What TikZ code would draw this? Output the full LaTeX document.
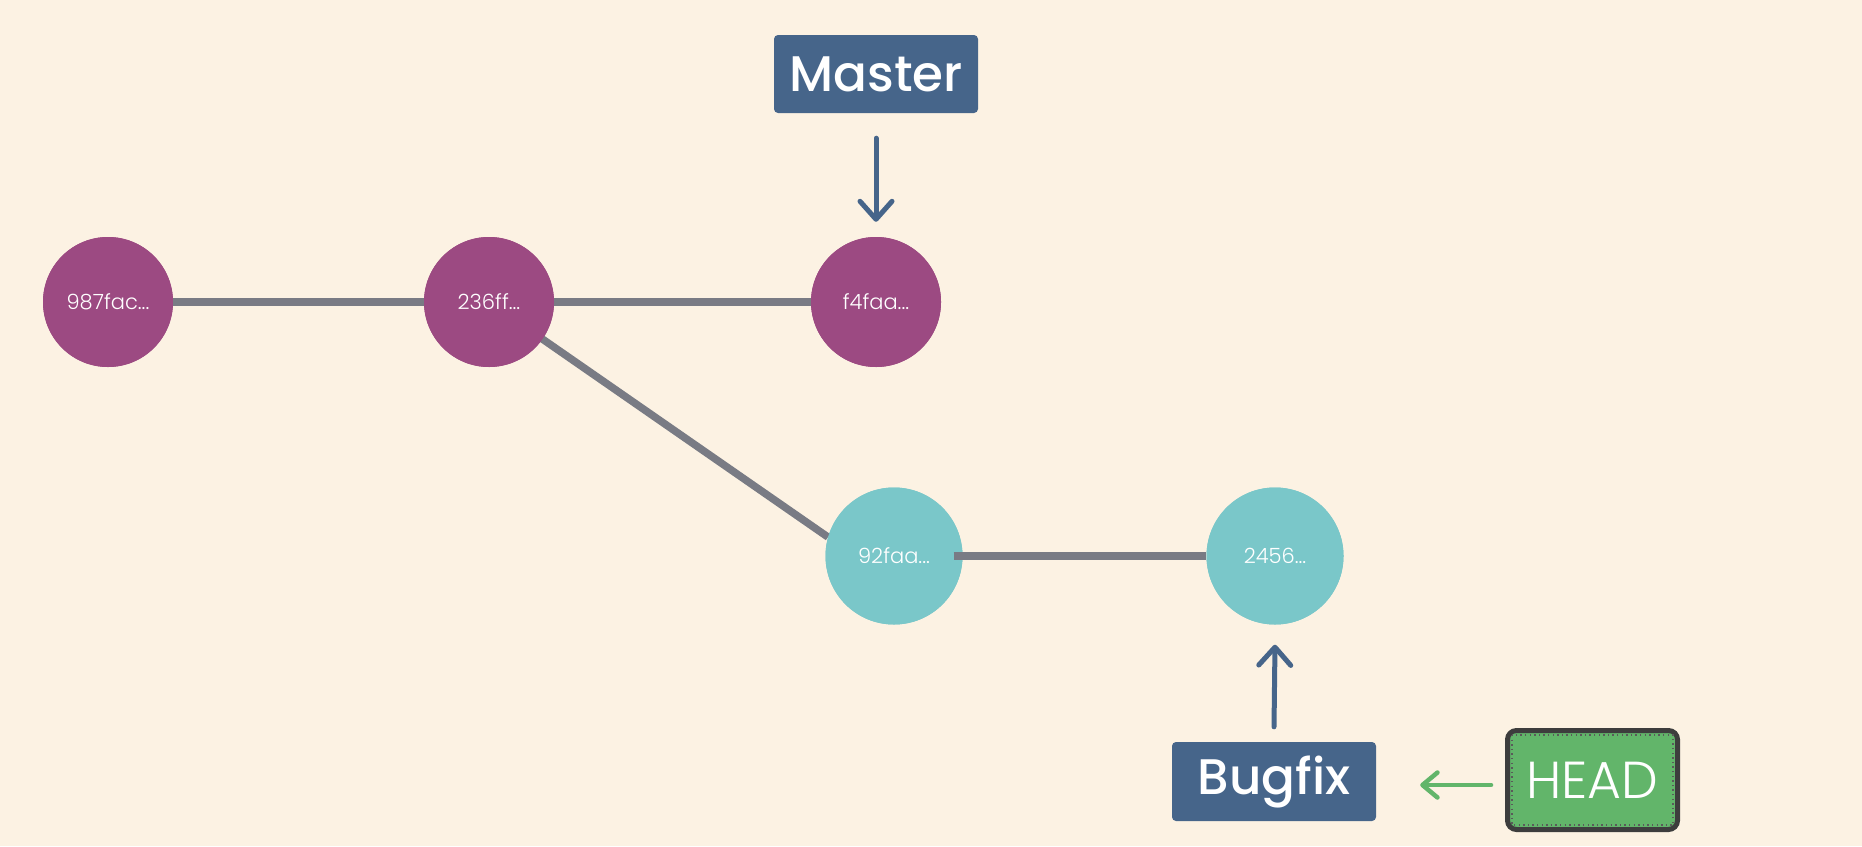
\documentclass[tikz,border=0pt]{standalone}
\usepackage{fontspec}
\setmainfont{Poppins}
\newfontfamily\poplight{Poppins Light}
\newfontfamily\popsemi{Poppins Medium}
\usetikzlibrary{arrows.meta}
\definecolor{bg}{HTML}{FCF2E3}
\definecolor{purp}{HTML}{9C4A82}
\definecolor{teal2}{HTML}{7AC7C9}
\definecolor{edgegray}{HTML}{797B84}
\definecolor{refblue}{HTML}{46658A}
\definecolor{headgreen}{HTML}{62B56A}
\definecolor{headborder}{HTML}{3D3D3D}
\tikzset{
  commit/.style={circle, inner sep=0pt, text=white, font=\poplight\fontsize{21}{25}\selectfont},
  mastercommit/.style={commit, fill=purp, minimum size=130pt},
  bugcommit/.style={commit, fill=teal2, minimum size=137pt},
  link/.style={draw=edgegray, line width=7.5pt},
  branchbox/.style={fill=refblue, rounded corners=4pt, text=white, inner sep=0pt, font=\popsemi\fontsize{50}{60}\selectfont},
  ptr/.style={draw=refblue, line width=5pt, line cap=round, -{Straight Barb[length=18pt,width=32pt,round]}},
  headptr/.style={draw=headgreen, line width=4.5pt, line cap=round, -{Straight Barb[length=15pt,width=25pt,round]}},
  headbox/.style={fill=headgreen, draw=headborder, line width=5pt, rounded corners=9pt, text=white, inner sep=0pt, minimum width=170pt, minimum height=99pt, font=\poplight\fontsize{52}{60}\selectfont},
  headdots/.style={draw=headborder!85, line width=1.4pt, dash pattern=on 1.4pt off 3.2pt}
}
\begin{document}
\begin{tikzpicture}[x=1pt,y=-1pt]
\useasboundingbox[fill=bg] (0,0) rectangle (1862,846);
% commit shapes
\node[mastercommit] (c1) at (108,302) {};
\node[mastercommit] (c2) at (489,302) {};
\node[mastercommit] (c3) at (876,302) {};
\node[bugcommit] (c4) at (894,556) {};
\node[bugcommit] (c5) at (1275,556) {};
% edges
\draw[link] (c1.center) -- (c2.center);
\draw[link] (c2.center) -- (c3.center);
\draw[link] (c2.center) -- (c4.164);
% circles over edges, with their labels
\node[mastercommit] at (c1) {987fac...};
\node[mastercommit] at (c2) {236ff...};
\node[mastercommit] at (c3) {f4faa...};
\node[bugcommit] at (c4) {92faa...};
\node[bugcommit] at (c5) {2456...};
\draw[link] ([xshift=-9pt]c4.east) -- (c5.west);
% branches
\node[branchbox, minimum width=204pt, minimum height=78pt] (master) at (876,74) {Master};
\node[branchbox, minimum width=204pt, minimum height=79pt] (bugfix) at (1274,781.5) {Bugfix};
\node[headbox] (head) at (1592.5,780) {HEAD};
\draw[headdots] ([xshift=7pt,yshift=-7pt]head.north west) rectangle ([xshift=-7pt,yshift=7pt]head.south east);
% pointers
\draw[ptr] ([yshift=-25pt]master.south) -- ([yshift=15pt]c3.north);
\draw[ptr] ([yshift=15pt]bugfix.north) -- ([yshift=-20pt]c5.south);
\draw[headptr] ([xshift=-14pt,yshift=-5pt]head.west) -- ([xshift=44pt,yshift=-3.5pt]bugfix.east);
\end{tikzpicture}
\end{document}
